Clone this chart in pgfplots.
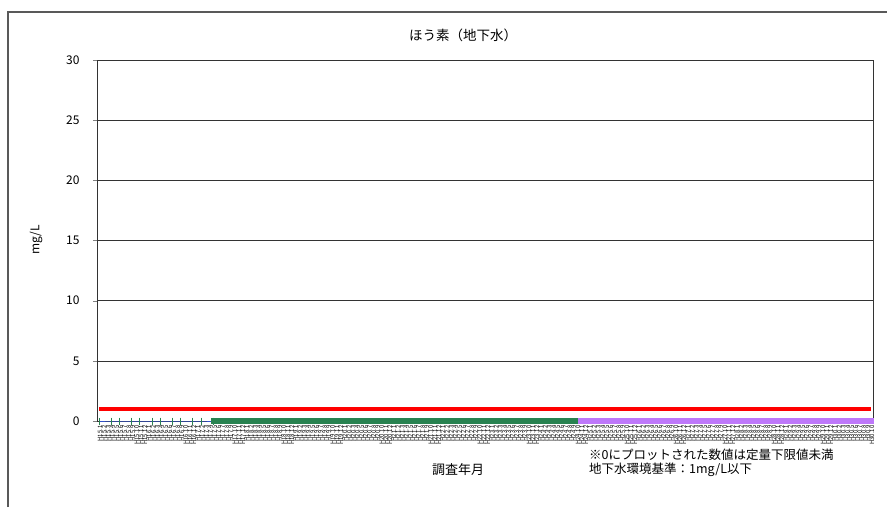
\documentclass[border=0pt]{standalone}
\usepackage{fontspec}
\setmainfont{Noto Sans CJK JP}
\usepackage{pgfplots}
\pgfplotsset{compat=1.18}
\definecolor{mkgreen}{RGB}{40,130,80}
\definecolor{lnblue}{RGB}{50,80,200}
\definecolor{mkpurple}{RGB}{190,120,250}
\definecolor{lnpink}{RGB}{210,90,210}
\begin{document}
\begin{tikzpicture}[x=1pt,y=1pt]
\useasboundingbox (0,0) rectangle (887,507);
\draw[black!65, line width=1.3pt] (8,0) -- (8,495) -- (887,495);
\begin{axis}[at={(97pt,86pt)}, anchor=south west, width=776pt, height=361pt, scale only axis,
  /pgf/number format/assume math mode=true,
  xmin=-0.5, xmax=189.5, ymin=0, ymax=30, ytick={0,5,...,30},
  ymajorgrids, grid style={black!80, line width=0.6pt},
  axis line style={black!80, line width=0.6pt},
  xtick={0,...,189}, xtick style={draw=none},
  ytick pos=left, tick align=outside, major tick length=4pt,
  yticklabel style={font=\fontsize{12}{12}\selectfont, xshift=-10pt},
  xticklabel style={font=\fontsize{5.9}{5.9}\selectfont, rotate=90, anchor=east, inner sep=0.5pt, yshift=-1pt},
  xticklabel={\pgfmathtruncatemacro\yr{15+floor(\ticknum/12)}\pgfmathtruncatemacro\mo{mod(\ticknum,12)+1}H\yr.\mo},
  clip=false]
\addplot[red, line width=3.2pt] coordinates {(0,1)(189,1)};
\addplot[lnblue, line width=1pt, mark=|, mark size=3.5pt, mark options={mkgreen, line width=1pt}] coordinates {
(0,0)(3,0)(5,0)(8,0)(10,0)(13,0)(15,0)(18,0)(20,0)(23,0)(25,0)(28,0)};
\addplot[lnblue, line width=1pt, mark=square*, mark size=2.1pt, mark options={mkgreen, fill=mkgreen}] coordinates {
(28,0)(29,0)(30,0)(31,0)(32,0)(33,0)(34,0)(35,0)(36,0)(37,0)(38,0)(39,0)(40,0)(41,0)(42,0)(43,0)(44,0)(45,0)(46,0)(47,0)
(48,0)(49,0)(50,0)(51,0)(52,0)(53,0)(54,0)(55,0)(56,0)(57,0)(58,0)(59,0)(60,0)(61,0)(62,0)(63,0)(64,0)(65,0)(66,0)(67,0)
(68,0)(69,0)(70,0)(71,0)(72,0)(73,0)(74,0)(75,0)(76,0)(77,0)(78,0)(79,0)(80,0)(81,0)(82,0)(83,0)(84,0)(85,0)(86,0)(87,0)
(88,0)(89,0)(90,0)(91,0)(92,0)(93,0)(94,0)(95,0)(96,0)(97,0)(98,0)(99,0)(100,0)(101,0)(102,0)(103,0)(104,0)(105,0)(106,0)(107,0)
(108,0)(109,0)(110,0)(111,0)(112,0)(113,0)(114,0)(115,0)(116,0)(117,0)};
\addplot[lnpink, line width=1pt, mark=square*, mark size=2.1pt, mark options={mkpurple, fill=mkpurple}] coordinates {
(118,0)(119,0)(120,0)(121,0)(122,0)(123,0)(124,0)(125,0)(126,0)(127,0)(128,0)(129,0)(130,0)(131,0)(132,0)(133,0)(134,0)(135,0)
(136,0)(137,0)(138,0)(139,0)(140,0)(141,0)(142,0)(143,0)(144,0)(145,0)(146,0)(147,0)(148,0)(149,0)(150,0)(151,0)(152,0)(153,0)
(154,0)(155,0)(156,0)(157,0)(158,0)(159,0)(160,0)(161,0)(162,0)(163,0)(164,0)(165,0)(166,0)(167,0)(168,0)(169,0)(170,0)(171,0)
(172,0)(173,0)(174,0)(175,0)(176,0)(177,0)(178,0)(179,0)(180,0)(181,0)(182,0)(183,0)(184,0)(185,0)(186,0)(187,0)(188,0)(189,0)};
\end{axis}
\node[font=\fontsize{13.5}{13.5}\selectfont] at (463,472) {ほう素（地下水）};
\node[font=\fontsize{12}{12}\selectfont, rotate=90] at (36,267) {mg/L};
\node[font=\fontsize{13}{13}\selectfont] at (458,37) {調査年月};
\node[font=\fontsize{12.5}{13.5}\selectfont, anchor=north west, align=left, inner sep=0pt] at (589,58) {※0にプロットされた数値は定量下限値未満\\地下水環境基準：1mg/L以下};
\end{tikzpicture}
\end{document}
